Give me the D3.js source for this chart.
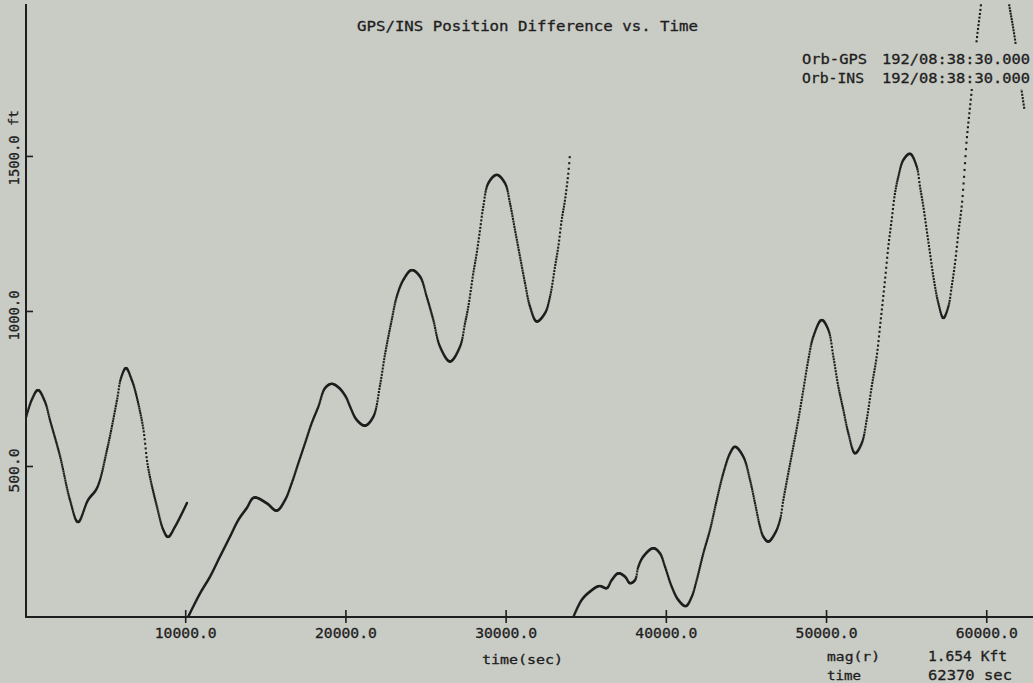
<!DOCTYPE html>
<html>
<head>
<meta charset="utf-8">
<script src="https://cdn.jsdelivr.net/npm/d3@7"></script>
<style>
  html, body { margin: 0; padding: 0; background: #c9cbc5; }
  svg { display: block; }
  text { font-family: "DejaVu Sans Mono", monospace; fill: #1e1e1e; stroke: #1e1e1e; stroke-width: 0.3px; }
</style>
</head>
<body>
<svg id="chart" width="1033" height="683"></svg>
<script>
// Magnitude of the GPS/INS position difference (ft) against elapsed time (s).
// Three recorded passes; each pass restarts near zero.
const pass1Time = [60, 418, 811, 1248, 1560, 2185, 2809, 3308, 3933, 4494, 5118, 5743, 6000, 6305, 6660, 6866, 7366, 7678, 8239, 8633, 8926, 9363, 10112];
const pass1Diff = [655, 713, 745, 707, 648, 532, 390, 319, 390, 429, 552, 713, 785, 816, 778, 745, 626, 497, 368, 294, 271, 304, 381];

const pass2Time = [10180, 10924, 11548, 12172, 12796, 13316, 13836, 14294, 15085, 15709, 16229, 16645, 17061, 17477, 17893, 18309, 18725, 19141, 19600, 20038, 20286, 20702, 21222, 21742, 22159, 22471, 22890, 23202, 23614, 24138, 24656, 25075, 25487, 25904, 26529, 27153, 27465, 27672, 27983, 28195, 28401, 28607, 28919, 29444, 29962, 30274, 30586, 30898, 31210, 31522, 31940, 32458, 32771, 33083, 33291, 33501, 33707, 33913, 34019];
const pass2Diff = [13, 89, 143, 208, 272, 326, 364, 398, 380, 356, 390, 444, 509, 573, 638, 691, 751, 765, 752, 722, 692, 649, 630, 659, 760, 860, 971, 1046, 1100, 1132, 1111, 1046, 971, 885, 837, 885, 960, 1014, 1122, 1186, 1261, 1337, 1412, 1439, 1412, 1347, 1261, 1175, 1090, 1014, 966, 993, 1046, 1143, 1208, 1294, 1358, 1444, 1509];

const pass3Time = [34226, 34749, 35267, 35849, 36311, 36623, 37035, 37452, 37764, 38076, 38283, 38595, 39219, 39637, 39949, 40367, 40779, 41241, 41615, 41927, 42339, 42758, 43177, 43589, 44007, 44319, 44838, 45255, 45567, 45880, 46087, 46397, 46815, 47127, 47333, 47645, 47957, 48269, 48581, 48893, 49205, 49730, 50144, 50456, 50768, 51080, 51392, 51809, 52226, 52538, 52850, 53162, 53369, 53681, 53889, 54097, 54305, 54513, 54825, 55242, 55658, 55866, 56074, 56283, 56491, 56699, 57011, 57323, 57635, 57843, 58051, 58259, 58467, 58571, 58675, 58781, 58947, 59035, 59405, 59611, 60000, 60500, 61000, 61484, 61800, 62100, 62370];
const pass3Diff = [13, 68, 95, 113, 106, 132, 154, 143, 122, 132, 175, 208, 235, 218, 175, 111, 68, 48, 78, 132, 218, 294, 390, 477, 541, 562, 530, 455, 380, 304, 272, 256, 283, 326, 390, 477, 562, 649, 745, 842, 917, 971, 939, 853, 756, 681, 606, 541, 573, 649, 756, 853, 949, 1100, 1208, 1294, 1380, 1433, 1487, 1507, 1466, 1401, 1337, 1261, 1186, 1111, 1025, 977, 1014, 1079, 1154, 1251, 1337, 1401, 1476, 1552, 1638, 1681, 1874, 1960, 2110, 2160, 2105, 1971, 1874, 1750, 1654];

// Axis ticks
const xTicks = [10000, 20000, 30000, 40000, 50000, 60000];
const yTicks = [500, 1000, 1500];

// Annotation text
const titleText = "GPS/INS Position Difference vs. Time";
const legendRows = [["Orb-GPS", "192/08:38:30.000"], ["Orb-INS", "192/08:38:30.000"]];
const cursorRows = [["mag(r)", "1.654 Kft"], ["time", "62370 sec"]];

// Plotter sampling interval (s) used when the trace is laid down as pen dots
const sampleStep = 30;

const ink = "#1e1e1e";
const paper = "#c9cbc5";
const svg = d3.select("#chart");

const x = d3.scaleLinear().domain([0, 63000]).range([25, 1034.3]);
const y = d3.scaleLinear().domain([13, 1990]).range([617, 4]);

// Clip region for the traces
svg.append("defs").append("clipPath").attr("id", "plotClip")
  .append("rect").attr("x", 26).attr("y", 4).attr("width", 1033 - 26).attr("height", 613);

const line = d3.line()
  .x(d => x(d[0]))
  .y(d => y(d[1]))
  .curve(d3.curveCatmullRom.alpha(0.5));

const passes = [
  d3.zip(pass1Time, pass1Diff),
  d3.zip(pass2Time, pass2Diff),
  d3.zip(pass3Time, pass3Diff)
];

const traceG = svg.append("g").attr("clip-path", "url(#plotClip)");
const dx = x(sampleStep) - x(0);
const dot = 2.1;

passes.forEach(pts => {
  const path = traceG.append("path")
    .attr("d", line(pts))
    .attr("fill", "none")
    .attr("stroke", "none");
  const node = path.node();
  const L = node.getTotalLength();
  let prev = node.getPointAtLength(0);
  let nextX = prev.x;
  const dots = [];
  for (let s = 0; s <= L + 0.2; s += 0.2) {
    const q = node.getPointAtLength(Math.min(s, L));
    while (q.x >= nextX) {
      const f = q.x === prev.x ? 1 : (nextX - prev.x) / (q.x - prev.x);
      dots.push([nextX, prev.y + f * (q.y - prev.y)]);
      nextX += dx;
    }
    prev = q;
  }
  traceG.append("g").selectAll("rect").data(dots).join("rect")
    .attr("x", d => d[0] - dot / 2)
    .attr("y", d => d[1] - dot / 2)
    .attr("width", dot)
    .attr("height", dot)
    .attr("fill", ink);
});

// Axes
const xAxis = svg.append("g")
  .attr("transform", `translate(0,${y(13)})`)
  .call(d3.axisBottom(x).tickValues(xTicks).tickSizeOuter(0).tickSizeInner(6).tickPadding(8)
    .tickFormat(d3.format(".1f")));
xAxis.select(".domain").attr("stroke", ink).attr("stroke-width", 2)
  .attr("d", `M${x(0)},0H1033`);
xAxis.selectAll(".tick line").attr("stroke", ink).attr("stroke-width", 1.6)
  .attr("y1", -7).attr("y2", 6);
xAxis.selectAll(".tick text")
  .attr("font-family", '"DejaVu Sans Mono", monospace')
  .attr("font-size", 14)
  .attr("fill", ink)
  .attr("dy", null)
  .attr("y", 21)
  .attr("textLength", 62)
  .attr("lengthAdjust", "spacingAndGlyphs");

const yAxis = svg.append("g")
  .attr("transform", `translate(${x(0) + 1},0)`)
  .call(d3.axisLeft(y).tickValues(yTicks).tickSizeOuter(0).tickSizeInner(-7)
    .tickFormat(d3.format(".1f")));
yAxis.select(".domain").attr("stroke", ink).attr("stroke-width", 2)
  .attr("d", `M0,${y(13) + 1}V4`);
yAxis.selectAll(".tick line").attr("stroke", ink).attr("stroke-width", 1.6);
yAxis.selectAll(".tick text")
  .attr("font-family", '"DejaVu Sans Mono", monospace')
  .attr("font-size", 14)
  .attr("fill", ink)
  .attr("text-anchor", "middle")
  .attr("dy", null)
  .attr("x", null)
  .attr("transform", "translate(-7,4) rotate(-90)")
  .attr("textLength", d => d >= 1000 ? 50 : 44)
  .attr("lengthAdjust", "spacingAndGlyphs");

// Unit label on the vertical axis
svg.append("text")
  .attr("transform", "translate(18,118) rotate(-90)")
  .attr("text-anchor", "middle")
  .attr("font-size", 13)
  .text("ft");

// Title
svg.append("text")
  .attr("x", 357).attr("y", 31)
  .attr("font-size", 14)
  .attr("textLength", 341)
  .attr("lengthAdjust", "spacingAndGlyphs")
  .text(titleText);

// Reference-epoch legend, drawn on an opaque block over the traces
svg.append("rect")
  .attr("x", 796).attr("y", 44).attr("width", 237).attr("height", 45)
  .attr("fill", paper);
const legend = svg.append("g");
legendRows.forEach((r, i) => {
  legend.append("text").attr("x", 802).attr("y", 64 + i * 19)
    .attr("font-size", 14).attr("textLength", i === 0 ? 65 : 62)
    .attr("lengthAdjust", "spacingAndGlyphs").text(r[0]);
  legend.append("text").attr("x", 882).attr("y", 64 + i * 19)
    .attr("font-size", 14).attr("textLength", 148)
    .attr("lengthAdjust", "spacingAndGlyphs").text(r[1]);
});

// Axis title
svg.append("text")
  .attr("x", 482).attr("y", 664)
  .attr("font-size", 13)
  .attr("textLength", 81)
  .attr("lengthAdjust", "spacingAndGlyphs")
  .text("time(sec)");

// Cursor readout
cursorRows.forEach((r, i) => {
  svg.append("text").attr("x", 827).attr("y", 661 + i * 19)
    .attr("font-size", 13).attr("textLength", i === 0 ? 53 : 34)
    .attr("lengthAdjust", "spacingAndGlyphs").text(r[0]);
  svg.append("text").attr("x", 928).attr("y", 661 + i * 19)
    .attr("font-size", 14).attr("textLength", i === 0 ? 79 : 84)
    .attr("lengthAdjust", "spacingAndGlyphs").text(r[1]);
});
</script>
</body>
</html>
